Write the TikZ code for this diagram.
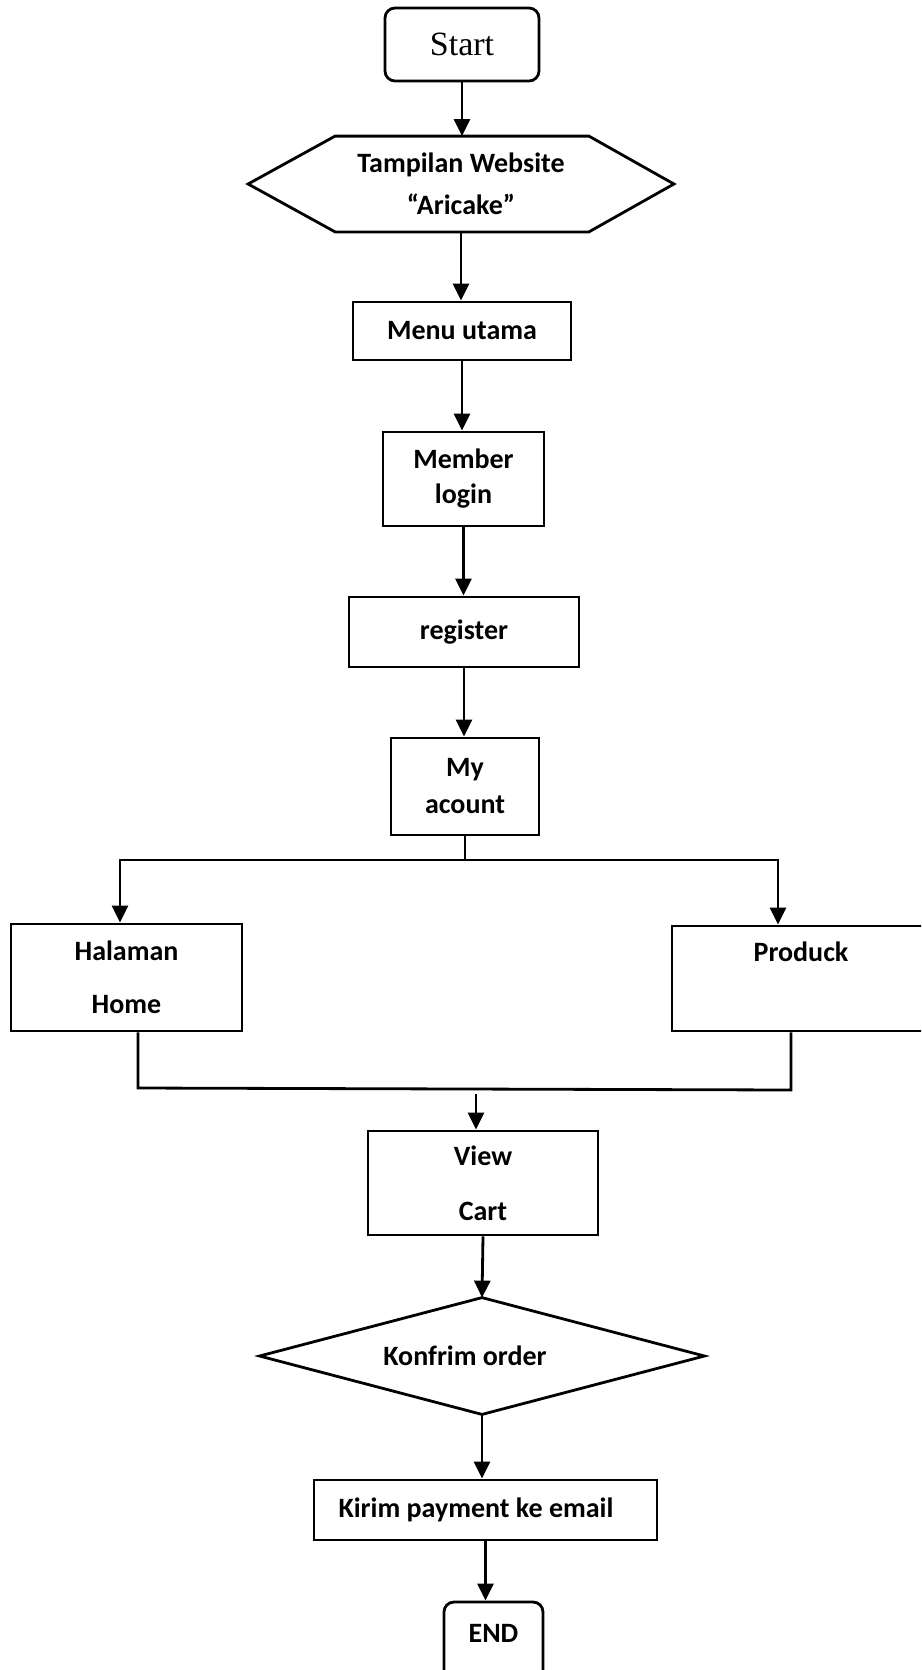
\documentclass[tikz,border=0pt]{standalone}
\usepackage{fontspec}
\setmainfont{Carlito}
\newfontfamily\startfont{Liberation Serif}
\usetikzlibrary{arrows.meta}
\begin{document}
\begin{tikzpicture}[x=0.5pt,y=-0.5pt,
  line width=1.4pt,
  box/.style={draw, rectangle, inner sep=0pt, align=center,
    font=\fontsize{14}{17.5}\selectfont\bfseries},
  wide/.style={font=\fontsize{14}{26.5}\selectfont\bfseries},
  term/.style={box, rounded corners=5pt},
  arr/.style={-{Triangle[length=8.5pt,width=8pt]}}
]
\useasboundingbox (0,0) rectangle (921,1670);
\clip (0,0) rectangle (921,1670);

\node[term, font=\startfont\fontsize{17}{20}\selectfont,
  minimum width=77pt, minimum height=36.5pt] (start) at (462,44.5) {Start};

\node[box, draw=none, minimum width=211.5pt, minimum height=46.5pt,
  font=\fontsize{14}{21}\selectfont\bfseries] (web) at (461,184) {Tampilan Website\\“Aricake”};
\draw (web.west) -- ([xshift=43.5pt]web.north west) -- ([xshift=-42.5pt]web.north east)
  -- (web.east) -- ([xshift=-42.5pt]web.south east) -- ([xshift=43.5pt]web.south west) -- cycle;

\node[box, minimum width=109pt, minimum height=29pt] (menu) at (462,331) {Menu utama};
\node[box, minimum width=80.5pt, minimum height=47pt] (member) at (463.5,479) {Member\\login};
\node[box, minimum width=115pt, minimum height=35pt] (register) at (464,632) {register};
\node[box, minimum width=74pt, minimum height=48.5pt,
  font=\fontsize{14}{18.5}\selectfont\bfseries] (acount) at (465,786.5) {My\\acount};

\node[box, wide, minimum width=115.5pt, minimum height=53.5pt] (halaman) at (126.5,977.5) {Halaman\\Home};
\node[box, wide, minimum width=129pt, minimum height=52.5pt] (produck) at (801,978.5) {Produck\\~};

\node[box, font=\fontsize{14}{27.5}\selectfont\bfseries, minimum width=115pt, minimum height=52pt] (cart) at (483,1183) {View\\Cart};

\node[box, draw=none, minimum width=221pt, minimum height=57pt] (konf) at (482,1356) {Konfrim order\hspace*{17pt}};
\draw (konf.west) -- (konf.north) -- (konf.east) -- (konf.south) -- cycle;

\node[box, minimum width=171.5pt, minimum height=30pt] (kirim) at (485.5,1510) {Kirim payment ke email\hspace*{9.5pt}};

\node[term, minimum width=49.5pt, minimum height=39pt] (end) at (493.5,1641) {\raisebox{8pt}{END}};

% connectors
\draw[arr] (start.south) -- (start.south |- web.north);
\draw[arr] (web.south) -- (web.south |- menu.north);
\draw[arr] (menu.south) -- (menu.south |- member.north);
\draw[arr] (member.south) -- (member.south |- register.north);
\draw[arr] (register.south) -- (register.south |- acount.north);

\coordinate (bl) at (120,860);
\coordinate (br) at (778,860);
\draw[arr] (acount.south) |- (bl) -- (bl |- halaman.north);
\draw[arr] (acount.south) |- (br) -- (br |- produck.north);

\coordinate (jl) at (138,1088);
\coordinate (jr) at (791,1090);
\draw (jl |- halaman.south) -- (jl) -- (jr) -- (jr |- produck.south);

\coordinate (ct) at (476,1094);
\draw[arr] (ct) -- (ct |- cart.north);
\draw[arr] (cart.south) -- (konf.north);
\draw[arr] (konf.south) -- (konf.south |- kirim.north);
\draw[arr] (kirim.south) -- (kirim.south |- end.north);
\end{tikzpicture}
\end{document}
